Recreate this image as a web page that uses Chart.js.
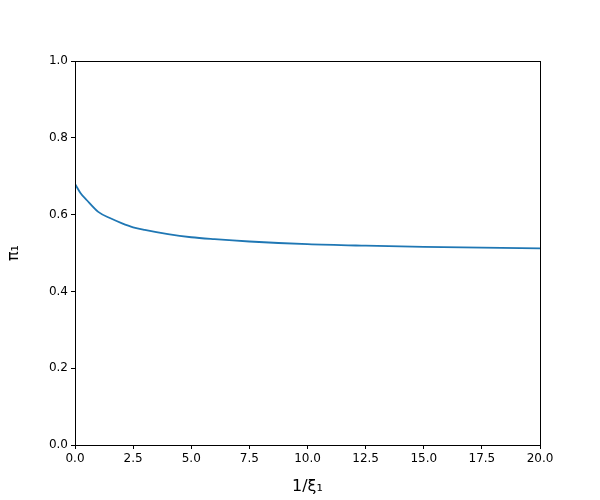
<!DOCTYPE html>
<html><head><meta charset="utf-8">
<script src="https://cdn.jsdelivr.net/npm/chart.js@4"></script>
<style>html,body{margin:0;padding:0;background:#fff}#w{width:600px;height:500px}</style>
</head><body><div id="w"><canvas id="c"></canvas></div>
<script>
const xValues = [0, 0.25, 0.5, 1, 1.5, 2, 2.5, 3, 4, 5, 6, 7.5, 10, 12.5, 15, 17.5, 20];
const piValues = [0.680, 0.655, 0.638, 0.607, 0.591, 0.578, 0.567, 0.560, 0.549, 0.541, 0.536, 0.530, 0.523, 0.519, 0.516, 0.514, 0.512];
const xLabel = '1/ξ₁';
const yLabel = 'π₁';
const font = {family: 'DejaVu Sans', size: 12};
const box = {id:'box', afterDraw(ch){const a=ch.chartArea,c=ch.ctx;c.save();c.strokeStyle='#000';c.lineWidth=1;c.strokeRect(a.left+0.5,a.top+0.5,a.right-a.left,a.bottom-a.top);c.restore();}};
new Chart(document.getElementById('c'), {
  type: 'line',
  data: {datasets: [{data: xValues.map((x,i)=>({x, y: piValues[i]})), borderColor: '#1f77b4', borderWidth: 1.8, pointRadius: 0, tension: 0.4, cubicInterpolationMode: 'monotone'}]},
  options: {
    responsive: true, maintainAspectRatio: false, animation: false,
    layout: {padding: {top: 61, right: 60, left: 0, bottom: 0}},
    plugins: {legend: {display: false}, tooltip: {enabled: false}},
    scales: {
      x: {type: 'linear', min: 0, max: 20,
        ticks: {stepSize: 2.5, color: '#000', font, callback: v => v.toFixed(1)},
        grid: {drawOnChartArea: false, tickLength: 4, color: '#000'}, border: {color: '#000'},
        title: {display: true, text: xLabel, color: '#000', font: {family: 'DejaVu Sans', size: 16}, padding: {top: 4}},
        afterFit: s => { s.height = 55; }},
      y: {min: 0, max: 1,
        ticks: {stepSize: 0.2, color: '#000', font, callback: v => v.toFixed(1)},
        grid: {drawOnChartArea: false, tickLength: 4, color: '#000'}, border: {color: '#000'},
        title: {display: true, text: yLabel, color: '#000', font: {family: 'DejaVu Sans', size: 16}},
        afterFit: s => { s.width = 75; }}
    }
  },
  plugins: [box]
});
</script></body></html>
